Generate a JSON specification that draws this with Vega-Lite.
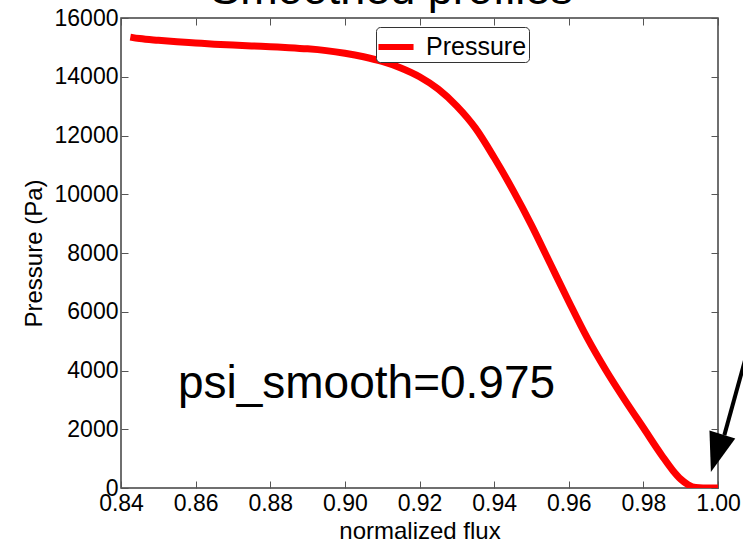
{
  "$schema": "https://vega.github.io/schema/vega-lite/v6.json",
  "width": 597,
  "height": 470,
  "autosize": {"type": "none"},
  "padding": {"left": 121, "top": 18, "right": 25, "bottom": 59},
  "background": "white",
  "title": {
    "text": "Smoothed profiles",
    "fontSize": 45,
    "font": "Liberation Sans",
    "fontWeight": "normal",
    "color": "black",
    "anchor": "middle",
    "frame": "group",
    "dx": -28,
    "dy": 42,
    "offset": 0,
    "baseline": "alphabetic"
  },
  "config": {
    "font": "Liberation Sans",
    "view": {"stroke": "#404040", "strokeWidth": 1.5},
    "axis": {
      "grid": false,
      "domain": false,
      "ticks": true,
      "tickSize": -7,
      "tickColor": "#555555",
      "tickWidth": 1,
      "labelFlush": false,
      "labelFont": "Liberation Sans",
      "labelFontSize": 23,
      "labelColor": "black",
      "titleFont": "Liberation Sans",
      "titleFontSize": 24,
      "titleFontWeight": "normal",
      "titleColor": "black"
    }
  },
  "datasets": {
    "curve": [
      {"x": 0.8425, "p": 15350, "series": "Pressure"},
      {"x": 0.845, "p": 15300, "series": "Pressure"},
      {"x": 0.85, "p": 15240, "series": "Pressure"},
      {"x": 0.855, "p": 15190, "series": "Pressure"},
      {"x": 0.86, "p": 15150, "series": "Pressure"},
      {"x": 0.865, "p": 15110, "series": "Pressure"},
      {"x": 0.87, "p": 15080, "series": "Pressure"},
      {"x": 0.875, "p": 15050, "series": "Pressure"},
      {"x": 0.88, "p": 15020, "series": "Pressure"},
      {"x": 0.885, "p": 14990, "series": "Pressure"},
      {"x": 0.89, "p": 14950, "series": "Pressure"},
      {"x": 0.895, "p": 14890, "series": "Pressure"},
      {"x": 0.9, "p": 14800, "series": "Pressure"},
      {"x": 0.905, "p": 14680, "series": "Pressure"},
      {"x": 0.91, "p": 14520, "series": "Pressure"},
      {"x": 0.915, "p": 14300, "series": "Pressure"},
      {"x": 0.92, "p": 14000, "series": "Pressure"},
      {"x": 0.925, "p": 13580, "series": "Pressure"},
      {"x": 0.93, "p": 13000, "series": "Pressure"},
      {"x": 0.935, "p": 12250, "series": "Pressure"},
      {"x": 0.94, "p": 11250, "series": "Pressure"},
      {"x": 0.945, "p": 10150, "series": "Pressure"},
      {"x": 0.95, "p": 8950, "series": "Pressure"},
      {"x": 0.955, "p": 7650, "series": "Pressure"},
      {"x": 0.96, "p": 6350, "series": "Pressure"},
      {"x": 0.965, "p": 5100, "series": "Pressure"},
      {"x": 0.97, "p": 4000, "series": "Pressure"},
      {"x": 0.975, "p": 3000, "series": "Pressure"},
      {"x": 0.98, "p": 2050, "series": "Pressure"},
      {"x": 0.985, "p": 1100, "series": "Pressure"},
      {"x": 0.988, "p": 580, "series": "Pressure"},
      {"x": 0.99, "p": 300, "series": "Pressure"},
      {"x": 0.992, "p": 110, "series": "Pressure"},
      {"x": 0.994, "p": 15, "series": "Pressure"},
      {"x": 0.996, "p": 0, "series": "Pressure"},
      {"x": 1.0, "p": 0, "series": "Pressure"}
    ],
    "arrow": [{"x": 1.008, "y": 4700, "x2": 1.0017, "y2": 1800}],
    "head": [{"x": 0.9981, "y": 545}],
    "note": [{"x": 0.9058, "y": 3064, "label": "psi_smooth=0.975"}]
  },
  "layer": [
    {
      "data": {"name": "curve"},
      "mark": {"type": "line", "strokeWidth": 7, "interpolate": "monotone", "clip": true},
      "encoding": {
        "x": {
          "field": "x", "type": "quantitative",
          "scale": {"domain": [0.84, 1.0], "nice": false, "zero": false, "padding": 0},
          "axis": {
            "orient": "bottom", "title": "normalized flux",
            "values": [0.84, 0.86, 0.88, 0.9, 0.92, 0.94, 0.96, 0.98, 1.0],
            "format": ".2f", "labelPadding": 11, "titlePadding": 4
          }
        },
        "y": {
          "field": "p", "type": "quantitative",
          "scale": {"domain": [0, 16000], "nice": false, "zero": false, "padding": 0},
          "axis": {
            "orient": "left", "title": "Pressure (Pa)",
            "values": [0, 2000, 4000, 6000, 8000, 10000, 12000, 14000, 16000],
            "format": "d", "labelPadding": 10, "titlePadding": 8
          }
        },
        "color": {
          "field": "series", "type": "nominal",
          "scale": {"range": ["#ff0000"]},
          "legend": {
            "title": null,
            "orient": "none",
            "legendX": 255,
            "legendY": 9,
            "strokeColor": "#333333",
            "fillColor": "white",
            "cornerRadius": 4,
            "padding": 2,
            "symbolType": "M-1.17,0L1.17,0",
            "symbolStrokeWidth": 6,
            "symbolSize": 900,
            "symbolFillColor": "transparent",
            "labelFont": "Liberation Sans",
            "labelFontSize": 25,
            "labelColor": "black",
            "labelOffset": 12
          }
        }
      }
    },
    {
      "data": {"name": "arrow"},
      "mark": {"type": "rule", "strokeWidth": 4, "color": "black", "clip": false},
      "encoding": {
        "x": {
          "field": "x", "type": "quantitative",
          "scale": {"domain": [0.84, 1.0], "nice": false, "zero": false, "padding": 0},
          "axis": {
            "orient": "top", "title": null, "labels": false,
            "values": [0.84, 0.86, 0.88, 0.9, 0.92, 0.94, 0.96, 0.98, 1.0]
          }
        },
        "y": {
          "field": "y", "type": "quantitative",
          "scale": {"domain": [0, 16000], "nice": false, "zero": false, "padding": 0},
          "axis": {
            "orient": "right", "title": null, "labels": false,
            "values": [0, 2000, 4000, 6000, 8000, 10000, 12000, 14000, 16000]
          }
        },
        "x2": {"field": "x2"},
        "y2": {"field": "y2"}
      }
    },
    {
      "data": {"name": "head"},
      "mark": {
        "type": "point", "filled": true, "color": "black", "opacity": 1,
        "shape": "M0,0L-1,2.9L1,2.9Z", "size": 729, "angle": 197, "clip": false
      },
      "encoding": {
        "x": {"field": "x", "type": "quantitative", "scale": {"domain": [0.84, 1.0], "nice": false, "zero": false, "padding": 0}, "axis": null},
        "y": {"field": "y", "type": "quantitative", "scale": {"domain": [0, 16000], "nice": false, "zero": false, "padding": 0}, "axis": null}
      }
    },
    {
      "data": {"name": "note"},
      "mark": {"type": "text", "fontSize": 46, "font": "Liberation Sans", "color": "black", "align": "center", "baseline": "alphabetic"},
      "encoding": {
        "x": {"field": "x", "type": "quantitative", "scale": {"domain": [0.84, 1.0], "nice": false, "zero": false, "padding": 0}, "axis": null},
        "y": {"field": "y", "type": "quantitative", "scale": {"domain": [0, 16000], "nice": false, "zero": false, "padding": 0}, "axis": null},
        "text": {"field": "label"}
      }
    }
  ],
  "resolve": {"axis": {"x": "independent", "y": "independent"}}
}
